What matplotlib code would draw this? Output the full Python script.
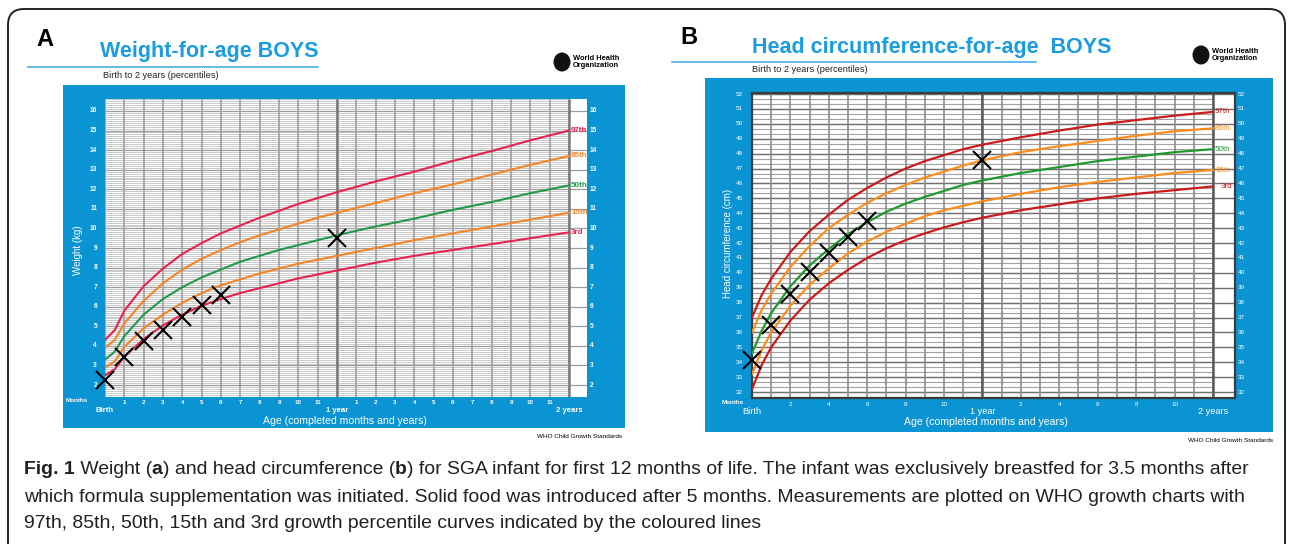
import matplotlib
matplotlib.use("Agg")
import matplotlib.pyplot as plt
from matplotlib.patches import FancyBboxPatch, Rectangle, Ellipse
import numpy as np

W, H = 1290, 544

# ---- data ----
months = [0, 0.5, 1, 2, 3, 4, 5, 6, 7, 8, 9, 10, 11, 12, 14, 16, 18, 20, 22, 24]
pct_names = ["97th", "85th", "50th", "15th", "3rd"]

# weight-for-age (kg)
wt_p97 = [4.3, 4.8, 5.8, 7.05, 7.95, 8.7, 9.25, 9.75, 10.15, 10.55, 10.9, 11.25, 11.55, 11.85, 12.4, 12.9, 13.45, 13.95, 14.5, 15.0]
wt_p85 = [3.9, 4.3, 5.15, 6.3, 7.2, 7.9, 8.45, 8.9, 9.3, 9.65, 9.95, 10.25, 10.55, 10.8, 11.3, 11.8, 12.25, 12.75, 13.25, 13.7]
wt_p50 = [3.3, 3.7, 4.5, 5.6, 6.4, 7.0, 7.5, 7.9, 8.3, 8.6, 8.9, 9.15, 9.4, 9.65, 10.1, 10.5, 10.95, 11.35, 11.8, 12.2]
wt_p15 = [2.9, 3.2, 3.95, 4.9, 5.6, 6.2, 6.7, 7.1, 7.4, 7.7, 7.95, 8.2, 8.4, 8.6, 9.0, 9.4, 9.75, 10.1, 10.45, 10.8]
wt_p3 = [2.5, 2.8, 3.45, 4.35, 5.05, 5.6, 6.05, 6.4, 6.7, 6.95, 7.2, 7.45, 7.65, 7.85, 8.25, 8.6, 8.9, 9.2, 9.5, 9.8]

# head circumference-for-age (cm)
hc_p97 = [37.0, 38.5, 39.6, 41.4, 42.8, 43.9, 44.9, 45.7, 46.4, 47.0, 47.5, 47.9, 48.3, 48.6, 49.1, 49.55, 49.95, 50.25, 50.55, 50.8]
hc_p85 = [36.0, 37.5, 38.6, 40.4, 41.8, 43.0, 43.9, 44.7, 45.35, 45.9, 46.4, 46.8, 47.2, 47.55, 48.1, 48.5, 48.85, 49.2, 49.5, 49.7]
hc_p50 = [34.6, 36.1, 37.3, 39.1, 40.5, 41.6, 42.6, 43.4, 44.1, 44.65, 45.1, 45.5, 45.9, 46.2, 46.7, 47.1, 47.5, 47.8, 48.1, 48.3]
hc_p15 = [33.2, 34.8, 36.0, 37.8, 39.2, 40.3, 41.3, 42.1, 42.75, 43.3, 43.8, 44.2, 44.5, 44.8, 45.3, 45.75, 46.1, 46.4, 46.7, 46.9]
hc_p3 = [32.2, 33.8, 35.0, 36.8, 38.2, 39.3, 40.2, 41.0, 41.65, 42.2, 42.65, 43.05, 43.4, 43.7, 44.2, 44.6, 45.0, 45.3, 45.55, 45.8]

# the infant's measurements
meas_months = [0, 1, 2, 3, 4, 5, 6, 12]
meas_weight = [2.27, 3.45, 4.27, 4.83, 5.5, 6.1, 6.6, 9.5]
meas_head = [34.15, 36.5, 38.6, 40.05, 41.3, 42.4, 43.5, 47.6]

wt_ticks = list(range(2, 17))
hc_ticks = list(range(32, 53))
month_labels_a = [1, 2, 3, 4, 5, 6, 7, 8, 9, 10, 11]
month_labels_b = [2, 4, 6, 8, 10]
year_labels = ["Birth", "1 year", "2 years"]

caption = [
    [("Fig. 1", True), (" Weight (", False), ("a", True), (") and head circumference (", False), ("b", True),
     (") for SGA infant for first 12 months of life. The infant was exclusively breastfed for 3.5 months after", False)],
    [("which formula supplementation was initiated. Solid food was introduced after 5 months. "
      "Measurements are plotted on WHO growth charts with", False)],
    [("97th, 85th, 50th, 15th and 3rd growth percentile curves indicated by the coloured lines", False)],
]

BLUE = "#0a94d4"
TITLE_BLUE = "#1b9ce0"
SANS = "Liberation Sans"

fig = plt.figure(figsize=(W / 100, H / 100), dpi=100)
fig.patch.set_facecolor("white")

bg = fig.add_axes([0, 0, 1, 1], zorder=0)
bg.set_xlim(0, W)
bg.set_ylim(H, 0)
bg.axis("off")


def px_axes(x0, y0, x1, y1):
    return fig.add_axes([x0 / W, 1 - y1 / H, (x1 - x0) / W, (y1 - y0) / H], zorder=2)


# outer frame
bg.add_patch(FancyBboxPatch((8, 9), 1277, 560, boxstyle="round,pad=0,rounding_size=16",
                            fc="none", ec="#222222", lw=1.4))


def header(letter, lx, ly, title, tx, ty, ux0, ux1, uy, sx, sy, logo_x, logo_y):
    bg.text(lx, ly, letter, fontsize=17, fontweight="bold", family=SANS, ha="left", va="center")
    bg.text(tx, ty, title, fontsize=15.5, fontweight="bold", family=SANS, color=TITLE_BLUE,
            ha="left", va="center")
    bg.plot([ux0, ux1], [uy, uy], color="#3aa8e0", lw=1.1)
    bg.text(sx, sy, "Birth to 2 years (percentiles)", fontsize=6.6, family=SANS,
            color="#222222", ha="left", va="center")
    bg.add_patch(Ellipse((logo_x, logo_y), 17, 19, fc="#111111", ec="none"))
    bg.text(logo_x + 11, logo_y, "World Health\nOrganization", fontsize=5.4, fontweight="bold",
            family=SANS, ha="left", va="center", linespacing=0.95)


header("A", 36, 40, "Weight-for-age BOYS", 100, 52, 28, 318, 67, 103, 75, 562, 62)
header("B", 680, 38, "Head circumference-for-age  BOYS", 752, 48, 672, 1036, 62, 752, 69, 1201, 55)

# blue chart panels
bg.add_patch(Rectangle((63, 85), 562, 343, fc=BLUE, ec="none"))
bg.add_patch(Rectangle((705, 78), 568, 354, fc=BLUE, ec="none"))
bg.text(622, 437, "WHO Child Growth Standards", fontsize=4.6, family=SANS, ha="right", va="center")
bg.text(1273, 441, "WHO Child Growth Standards", fontsize=4.6, family=SANS, ha="right", va="center")

curve_cols_a = ["#e8224e", "#f58426", "#21994a", "#f58426", "#e8224e"]
curve_cols_b = ["#cc1a1a", "#ff8c1a", "#1e9a2e", "#ff8c1a", "#cc1a1a"]

# ---------------- panel A: weight ----------------
ax = px_axes(105, 99, 587, 397)
ax.set_xlim(0, 24.93)
ax.set_ylim(1.39, 16.61)
ax.set_xticks([])
ax.set_yticks([])
for s in ax.spines.values():
    s.set_visible(False)
ax.hlines(np.arange(1.4, 16.61, 0.1), 0, 24, color="#c9c9c9", lw=0.7, zorder=1)
ax.hlines(wt_ticks, 0, 24.93, color="#9c9c9c", lw=0.9, zorder=1)
ax.vlines(range(0, 25), 1.39, 16.61, color="#a4a4a4", lw=1.3, zorder=1)
ax.vlines([12, 24], 1.39, 16.61, color="#7a7a7a", lw=1.8, zorder=1)

for vals, col, name in zip([wt_p97, wt_p85, wt_p50, wt_p15, wt_p3], curve_cols_a, pct_names):
    ax.plot(months, vals, color=col, lw=1.5, zorder=3)
    ax.annotate(name, xy=(24, vals[-1]), xytext=(2, 0), textcoords="offset pixels",
                fontsize=5.8, fontweight="bold", color=col, family=SANS, ha="left", va="center")
ax.plot(meas_months, meas_weight, ls="none", marker="x", ms=12.5, mew=1.5, color="black", zorder=4,
        clip_on=False)

for v in wt_ticks:
    ax.annotate(str(v), xy=(0, v), xycoords=("axes fraction", "data"), xytext=(-8, 0),
                textcoords="offset pixels", fontsize=4.8, fontweight="bold", color="white",
                ha="right", va="center", family=SANS)
    ax.annotate(str(v), xy=(1, v), xycoords=("axes fraction", "data"), xytext=(3, 0),
                textcoords="offset pixels", fontsize=4.8, fontweight="bold", color="white",
                ha="left", va="center", family=SANS)
for m in month_labels_a:
    for yr in (0, 12):
        ax.annotate(str(m), xy=(m + yr, 0), xycoords=("data", "axes fraction"), xytext=(0, -5),
                    textcoords="offset pixels", fontsize=4.5, fontweight="bold", color="white",
                    ha="center", va="center", family=SANS)
for m, lab in zip([0, 12, 24], year_labels):
    ax.annotate(lab, xy=(m, 0), xycoords=("data", "axes fraction"), xytext=(0, -14),
                textcoords="offset pixels", fontsize=5.6, fontweight="bold", color="white",
                ha="center", va="center", family=SANS)
bg.text(77, 401, "Months", fontsize=4.5, fontweight="bold", color="white", ha="center", va="center",
        family=SANS)
bg.text(78, 250, "Weight (kg)", fontsize=7, color="white", rotation=90, ha="center", va="center",
        family=SANS)
bg.text(345, 421, "Age (completed months and years)", fontsize=7.6, color="white", ha="center",
        va="center", family=SANS)

# ---------------- panel B: head circumference ----------------
bx = px_axes(752, 93, 1235, 398)
bx.set_xlim(0, 25.15)
bx.set_ylim(31.6, 52.07)
bx.set_xticks([])
bx.set_yticks([])
for s in bx.spines.values():
    s.set_color("#3c3c3c")
    s.set_linewidth(1.6)
bx.hlines(np.arange(31.667, 52.07, 1 / 3), 0, 24, color="#a2a2a2", lw=0.8, zorder=1)
bx.hlines(hc_ticks, 0, 25.15, color="#6f6f6f", lw=1.0, zorder=1)
bx.vlines(range(0, 25), 31.6, 52.07, color="#8c8c8c", lw=1.2, zorder=1)
bx.vlines([12, 24], 31.6, 52.07, color="#5a5a5a", lw=1.8, zorder=1)

for vals, col, name in zip([hc_p97, hc_p85, hc_p50, hc_p15, hc_p3], curve_cols_b, pct_names):
    bx.plot(months, vals, color=col, lw=1.6, zorder=3)
    bx.annotate(name, xy=(24, vals[-1]), xytext=(2 if name != "3rd" else 8, 0),
                textcoords="offset pixels", fontsize=5.8, color=col, family=SANS,
                ha="left", va="center")
bx.plot(meas_months, meas_head, ls="none", marker="x", ms=12.5, mew=1.5, color="black", zorder=4,
        clip_on=False)

for v in hc_ticks:
    bx.annotate(str(v), xy=(0, v), xycoords=("axes fraction", "data"), xytext=(-9, 0),
                textcoords="offset pixels", fontsize=4.6, color="white",
                ha="right", va="center", family=SANS)
    bx.annotate(str(v), xy=(1, v), xycoords=("axes fraction", "data"), xytext=(3, 0),
                textcoords="offset pixels", fontsize=4.6, color="white",
                ha="left", va="center", family=SANS)
for m in month_labels_b:
    for yr in (0, 12):
        bx.annotate(str(m), xy=(m + yr, 0), xycoords=("data", "axes fraction"), xytext=(0, -6),
                    textcoords="offset pixels", fontsize=4.5, color="white",
                    ha="center", va="center", family=SANS)
for m, lab in zip([0, 12, 24], year_labels):
    bx.annotate(lab, xy=(m, 0), xycoords=("data", "axes fraction"), xytext=(0, -14),
                textcoords="offset pixels", fontsize=6.6, color="white",
                ha="center", va="center", family=SANS)
bg.text(733, 403, "Months", fontsize=4.5, fontweight="bold", color="white", ha="center", va="center",
        family=SANS)
bg.text(728, 243, "Head circumference (cm)", fontsize=7, color="white", rotation=90, ha="center",
        va="center", family=SANS)
bg.text(986, 422, "Age (completed months and years)", fontsize=7.6, color="white", ha="center",
        va="center", family=SANS)

# ---------------- caption with bold fragments ----------------
renderer = fig.canvas.get_renderer()


def draw_line(parts, y, size):
    x = 24
    made = []
    for txt, bold in parts:
        t = bg.text(x, y, txt, fontsize=size, family=SANS, color="#231f20",
                    fontweight="bold" if bold else "normal", ha="left", va="center")
        x += t.get_window_extent(renderer).width
        made.append(t)
    return made, x


# fit the first caption line to the width it has in the reference
trial, end = draw_line(caption[0], 469, 12)
for t in trial:
    t.remove()
cap_size = 12 * (1250 - 24) / (end - 24)
for line, y in zip(caption, [469, 497, 524]):
    draw_line(line, y, cap_size)

fig.savefig("out.png", dpi=100, facecolor="white")
